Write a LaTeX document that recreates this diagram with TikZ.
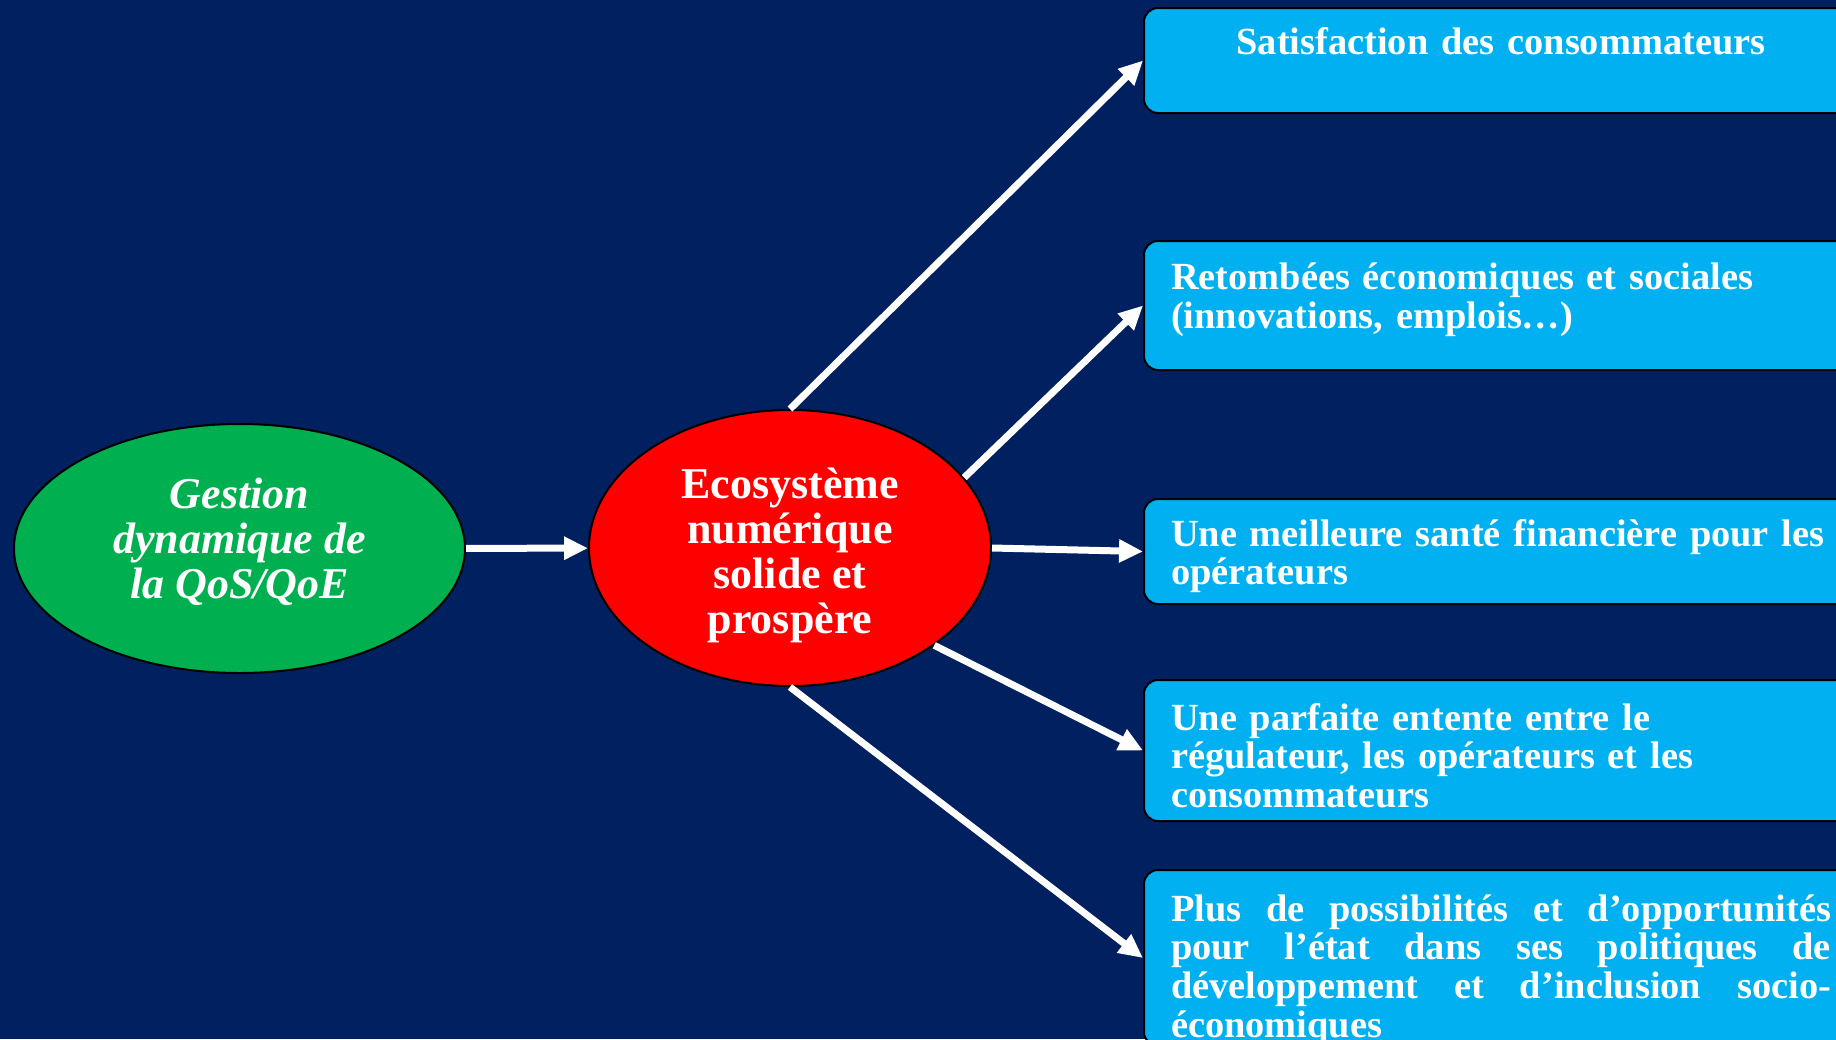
\documentclass[tikz,border=0pt]{standalone}
\usepackage{fontspec}
\setmainfont{Liberation Serif}
\usetikzlibrary{arrows.meta,shapes.geometric}
\definecolor{bg}{HTML}{002060}
\definecolor{boxblue}{HTML}{00B0F0}
\definecolor{okgreen}{HTML}{00B050}
\definecolor{okred}{HTML}{FF0000}
\tikzset{
  box/.style={draw=black, line width=1pt, fill=boxblue, rounded corners=7pt,
    anchor=north west, inner xsep=13.5pt, inner ysep=0pt, text width=330pt, text=white,
    font=\bfseries\fontsize{19.2}{19.3}\selectfont, align=left},
  oval/.style={ellipse, draw=black, line width=1pt, inner sep=0pt},
  ovaltext/.style={text=white, align=center, inner sep=0pt,
    font=\bfseries\fontsize{22}{22.5}\selectfont},
  arr/.style={draw=white, line width=3.5pt, -{Triangle[length=12pt,width=11pt]}}
}
\begin{document}
\begin{tikzpicture}[x=0.5pt,y=-0.5pt]
\path[use as bounding box, fill=bg] (0,0) rectangle (1836,1039);
\clip (0,0) rectangle (1836,1039);

\node[oval, fill=okgreen, minimum width=225.5pt, minimum height=124.5pt] (g) at (239.5,548.5) {};
\node[ovaltext, font=\bfseries\itshape\fontsize{22}{22.5}\selectfont] (gt) at (239.5,541.5)
  {Gestion\\dynamique de\\la QoS/QoE};
\node[oval, fill=okred, minimum width=201pt, minimum height=138pt] (r) at (790,548) {};
\node[ovaltext] (rt) at (790,555)
  {Ecosystème\\numérique\\solide et\\prospère};

\node[box, align=center, text height=23pt, text depth=29.5pt] (b1) at (1143,7)
  {Satisfaction des consommateurs};
\node[box, text height=24.25pt, text depth=40.25pt] (b2) at (1143,240)
  {Retombées économiques et sociales\\(innovations, emplois…)};
\node[box, text height=23.5pt, text depth=29pt] (b3) at (1143,498)
  {Une meilleure santé financière pour les\\opérateurs};
\node[box, text height=25pt, text depth=45.5pt] (b4) at (1143,679)
  {Une parfaite entente entre le\\régulateur, les opérateurs et les\\consommateurs};
\node[box, align=justify, text height=25.6pt, text depth=62.4pt] (b5) at (1143,869)
  {Plus de possibilités et d’opportunités\linebreak pour l’état dans ses politiques de\linebreak développement et d’inclusion socio-\linebreak économiques};

\draw[arr] (g) -- (r);
\draw[arr] (r.north) -- (b1.west);
\draw[arr] (r.22) -- (b2.west);
\draw[arr] (r.east) -- (b3.west);
\draw[arr] (r.-34) -- (b4.west);
\draw[arr] (r.south) -- (b5.west);
\end{tikzpicture}
\end{document}
